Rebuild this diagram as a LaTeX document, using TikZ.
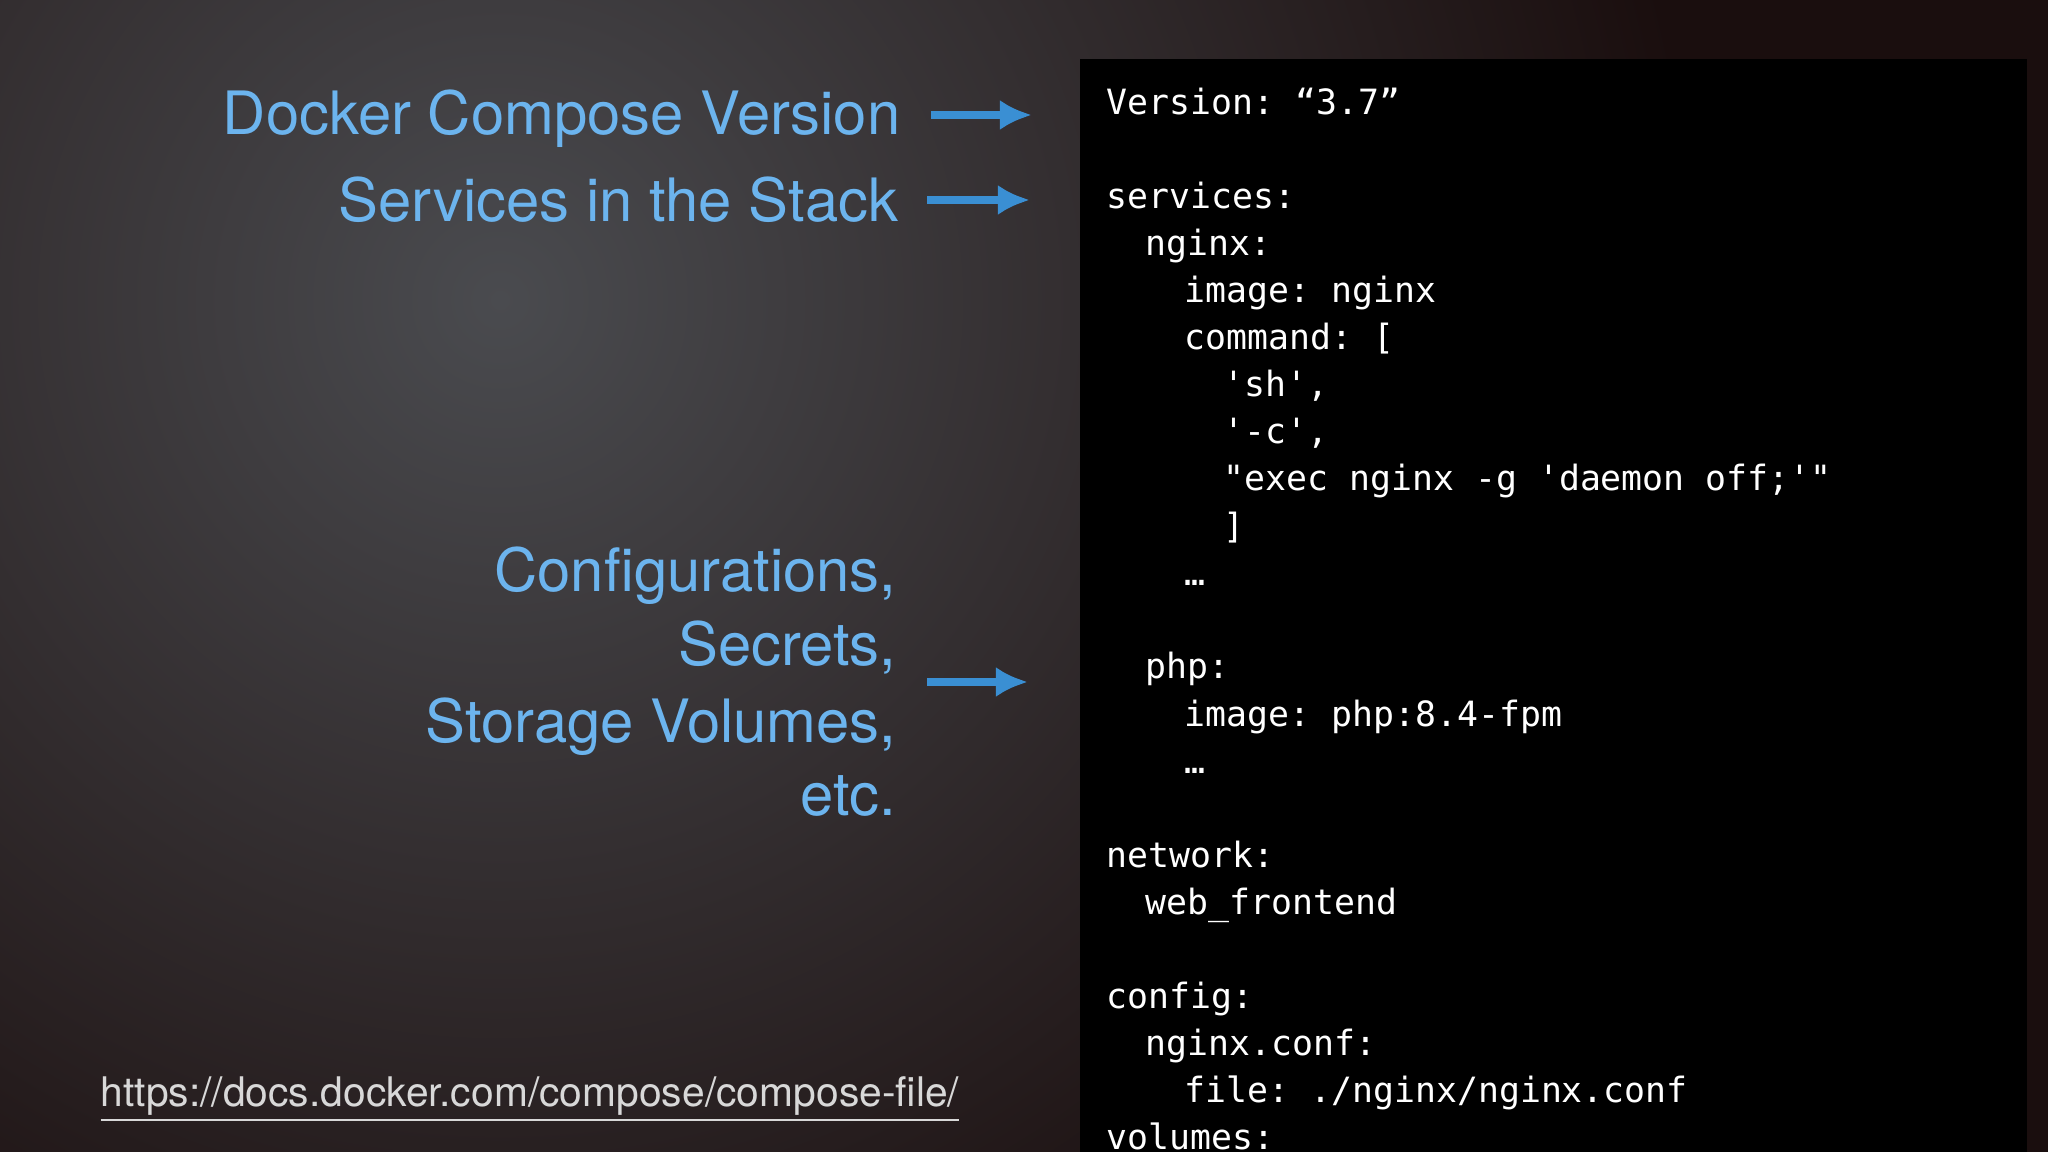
\documentclass[tikz,border=0pt]{standalone}
\usepackage{fontspec}
\usetikzlibrary{arrows.meta}
\setmainfont{TeX Gyre Heros}
\setmonofont{DejaVu Sans Mono}
\definecolor{lblue}{HTML}{6CB4EE}
\definecolor{ablue}{HTML}{3A8FD3}
\definecolor{urlc}{HTML}{D8D8D8}
\definecolor{bgc}{HTML}{4A4B4F}
\definecolor{bge}{HTML}{1A0E0E}
\begin{document}
\begin{tikzpicture}[x=0.01cm,y=-0.01cm,
  lab/.style={anchor=base east,text=lblue,font=\fontsize{17}{20}\selectfont,inner sep=0},
  arr/.style={-{Latex[length=0.32cm,width=0.3cm]},ablue,line width=0.08cm},
  code/.style={anchor=base west,text=white,font=\ttfamily\fontsize{9.9}{12}\selectfont,inner sep=0}]
\useasboundingbox (0,0) rectangle (2048,1152);
\fill[bge] (0,0) rectangle (2048,1152);
\shade[inner color=bgc, outer color=bge] (-700,-900) rectangle (1700,1500);
\fill[black] (1080,59) rectangle (2027,1152);
\node[lab] (l1) at (901,135) {Docker Compose Version};
\node[lab] (l2) at (899,222) {Services in the Stack};
\node[lab] (l3) at (897,592) {Configurations,};
\node[lab] (l4) at (897,666) {Secrets,};
\node[lab] (l5) at (897,742) {Storage Volumes,};
\node[lab] (l6) at (897,815) {etc.};
\coordinate (a1s) at (931,115); \coordinate (a1e) at (1032,115);
\coordinate (a2s) at (927,200); \coordinate (a2e) at (1030,200);
\coordinate (a3s) at (927,682); \coordinate (a3e) at (1028,682);
\draw[arr] (a1s) -- (a1e);
\draw[arr] (a2s) -- (a2e);
\draw[arr] (a3s) -- (a3e);
\node[anchor=base west,inner sep=0,text=urlc,font=\fontsize{11.6}{14}\selectfont] (url) at (100,1106) {\underline{https://docs.docker.com/compose/compose-file/}};
\def\cw{19.5}
\node[code] (c0) at (1106,115) {Version: “3.7”};
\node[code] (c2) at (1106,209) {services:};
\node[code] (c3) at (1106+2*\cw,256) {nginx:};
\node[code] (c4) at (1106+4*\cw,303) {image: nginx};
\node[code] (c5) at (1106+4*\cw,350) {command: [};
\node[code] (c6) at (1106+6*\cw,397) {'sh',};
\node[code] (c7) at (1106+6*\cw,444) {'-c',};
\node[code] (c8) at (1106+6*\cw,491) {"exec nginx -g 'daemon off;'"};
\node[code] (c9) at (1106+6*\cw,538) {]};
\node[code] (c10) at (1106+4*\cw,585) {…};
\node[code] (c12) at (1106+2*\cw,679) {php:};
\node[code] (c13) at (1106+4*\cw,726) {image: php:8.4-fpm};
\node[code] (c14) at (1106+4*\cw,773) {…};
\node[code] (c16) at (1106,867) {network:};
\node[code] (c17) at (1106+2*\cw,914) {web\_frontend};
\node[code] (c19) at (1106,1008) {config:};
\node[code] (c20) at (1106+2*\cw,1055) {nginx.conf:};
\node[code] (c21) at (1106+4*\cw,1102) {file: ./nginx/nginx.conf};
\node[code] (c22) at (1106,1149) {volumes:};
\end{tikzpicture}
\end{document}
